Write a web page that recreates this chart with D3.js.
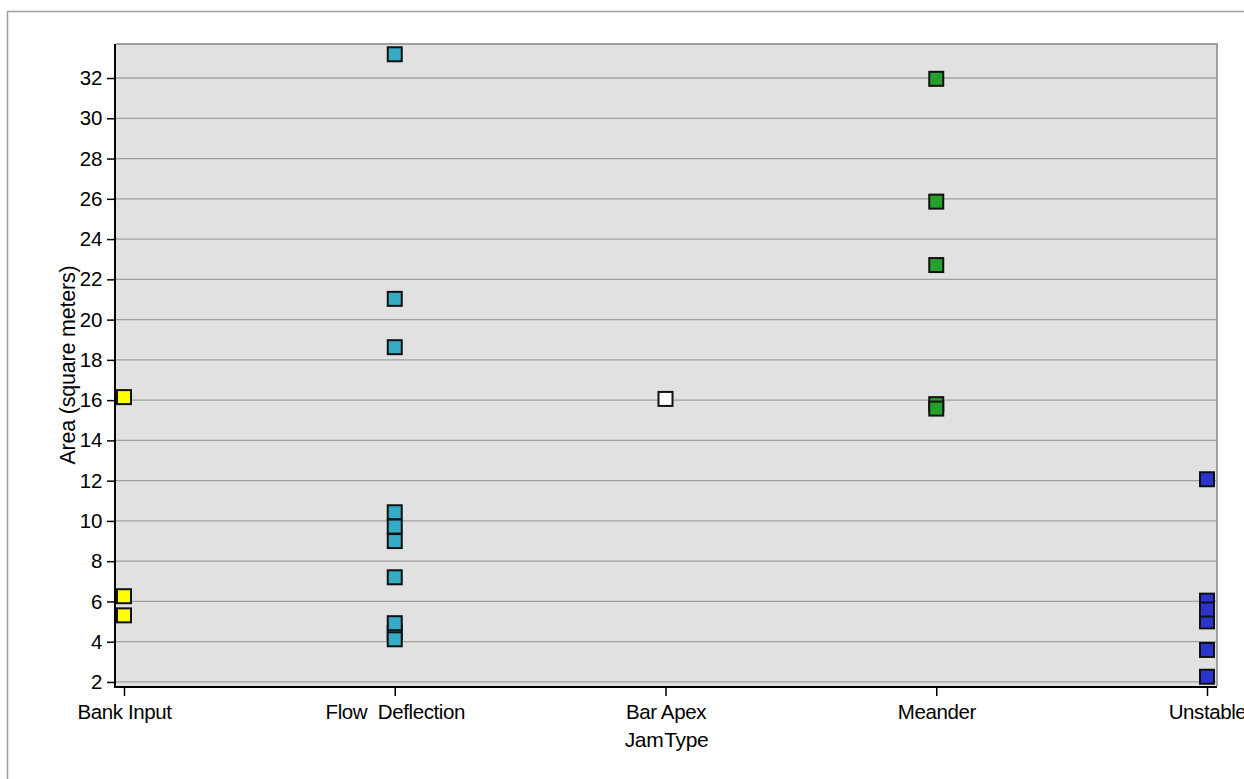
<!DOCTYPE html>
<meta charset="utf-8">
<script src="https://d3js.org/d3.v7.min.js"></script>
<style>
  body { margin: 0; background: #fff; }
  text { font-family: "Liberation Sans", Arial, sans-serif; fill: #000; }
  .grid line { stroke: #a0a0a0; stroke-width: 1.3px; }
</style>
<div id="chart"></div>
<script>
  // categories on the x axis
  var jamTypes = ["Bank Input", "Flow  Deflection", "Bar Apex", "Meander", "Unstable"];
  var jamColors = ["#ffff00", "#35abc6", "#ffffff", "#26a02c", "#2b34cc"];

  // area values per jam type (square meters), in drawing order
  var bankInput = [16.15, 6.26, 5.31];
  var flowDeflection = [33.18, 21.03, 18.63, 10.43, 9.72, 9.0, 7.2, 4.45, 4.92, 4.12];
  var barApex = [16.06];
  var meander = [31.96, 25.86, 22.71, 15.8, 15.58];
  var unstable = [12.07, 6.04, 5.01, 5.6, 3.59, 2.26];

  var yTicks = d3.range(2, 33, 2);

  var width = 1244, height = 779;
  var svg = d3.select("#chart").append("svg")
    .attr("width", width)
    .attr("height", height);

  // outer frame
  svg.append("rect")
    .attr("x", 7.5).attr("y", 11.5)
    .attr("width", 1300).attr("height", 900)
    .attr("fill", "none").attr("stroke", "#a0a0a0").attr("stroke-width", 1.5);

  var plotLeft = 116, plotRight = 1217, plotTop = 44, plotBottom = 686;

  var x = d3.scalePoint().domain(jamTypes).range([124, 1207]);
  var y = d3.scaleLinear().domain([1.8, 33.69]).range([plotBottom, plotTop]);

  svg.append("rect")
    .attr("x", plotLeft).attr("y", plotTop)
    .attr("width", plotRight - plotLeft).attr("height", plotBottom - plotTop)
    .attr("fill", "#e1e1e1");

  svg.append("g").attr("class", "grid")
    .selectAll("line").data(yTicks).join("line")
    .attr("x1", plotLeft).attr("x2", plotRight)
    .attr("y1", function (d) { return y(d); })
    .attr("y2", function (d) { return y(d); });

  // top and right border
  svg.append("path")
    .attr("d", "M" + plotLeft + "," + plotTop + "H" + plotRight + "V" + plotBottom)
    .attr("fill", "none").attr("stroke", "#a0a0a0").attr("stroke-width", 2);

  // y axis
  var yAxis = svg.append("g")
    .attr("transform", "translate(" + (plotLeft - 1) + ",0)")
    .call(d3.axisLeft(y).tickValues(yTicks).tickSize(8).tickPadding(5));
  yAxis.select(".domain").attr("stroke", "#000").attr("stroke-width", 2)
    .attr("d", "M0," + (plotTop) + "V" + (plotBottom + 1));
  yAxis.selectAll(".tick line").attr("stroke", "#000").attr("stroke-width", 1.5);
  yAxis.selectAll(".tick text").style("font-size", "20.5px").attr("letter-spacing", "-0.3px");

  // x axis
  var xAxis = svg.append("g")
    .attr("transform", "translate(0," + (plotBottom + 1) + ")")
    .call(d3.axisBottom(x).tickSize(9).tickPadding(8));
  xAxis.select(".domain").attr("stroke", "#000").attr("stroke-width", 2)
    .attr("d", "M" + (plotLeft - 2) + ",0H" + plotRight);
  xAxis.selectAll(".tick line").attr("stroke", "#000").attr("stroke-width", 1.5);
  xAxis.selectAll(".tick text").style("font-size", "20.5px").attr("letter-spacing", "-0.4px")
    .style("white-space", "pre").attr("xml:space", "preserve");

  // axis titles
  svg.append("text")
    .attr("x", (plotLeft + plotRight) / 2).attr("y", 747)
    .attr("text-anchor", "middle")
    .style("font-size", "21px").attr("letter-spacing", "-0.4px").attr("word-spacing", "-4px")
    .text("Jam Type");

  svg.append("text")
    .attr("transform", "translate(75," + ((plotTop + plotBottom) / 2) + ") rotate(-90)")
    .attr("text-anchor", "middle")
    .style("font-size", "21.5px").attr("letter-spacing", "-0.2px")
    .text("Area (square meters)");

  // points
  var seriesValues = [bankInput, flowDeflection, barApex, meander, unstable];
  var pts = [];
  seriesValues.forEach(function (vals, i) {
    vals.forEach(function (v) { pts.push({ type: jamTypes[i], value: v, color: jamColors[i] }); });
  });

  var size = 14;
  svg.append("g").selectAll("rect").data(pts).join("rect")
    .attr("x", function (d) { return x(d.type) - size / 2; })
    .attr("y", function (d) { return y(d.value) - size / 2; })
    .attr("width", size).attr("height", size)
    .attr("fill", function (d) { return d.color; })
    .attr("stroke", "#111").attr("stroke-width", 2);
</script>
